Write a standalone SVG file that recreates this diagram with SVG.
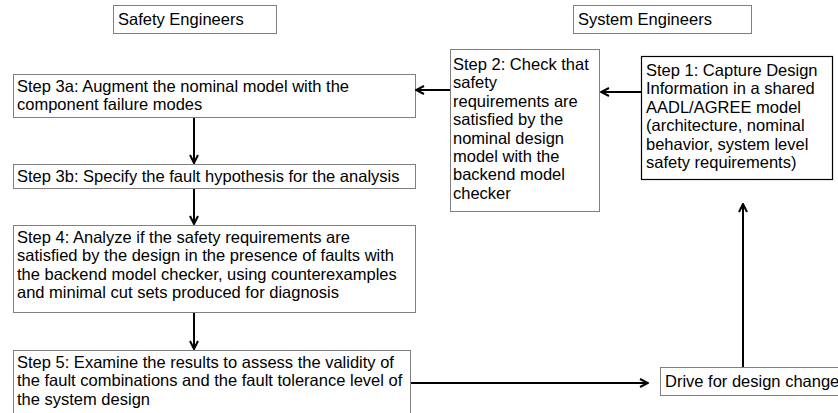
<svg xmlns="http://www.w3.org/2000/svg" width="838" height="413" viewBox="0 0 838 413">
<defs>
<style>
.box{fill:#fff;stroke:#7f7f7f;stroke-width:1}
.dark{fill:#fff;stroke:#000;stroke-width:1.2}
.t{font-family:"Liberation Sans",Arial,sans-serif;font-size:16.5px;fill:#000}
.c{fill:none;stroke:#000;stroke-width:2}
</style>
<marker id="ah" viewBox="0 0 10 10" refX="9" refY="5" markerWidth="10" markerHeight="10" markerUnits="userSpaceOnUse" orient="auto">
<path d="M1,1 L9,5 L1,9" fill="none" stroke="#000" stroke-width="2"/>
</marker>
</defs>
<rect width="838" height="413" fill="#fff"/>
<g id="safety-engineers">
<rect class="box" x="113.5" y="5.5" width="163" height="28"/>
<text class="t" x="118" y="25">Safety Engineers</text>
</g>
<g id="system-engineers">
<rect class="box" x="573.5" y="5.5" width="178" height="28"/>
<text class="t" x="578" y="25">System Engineers</text>
</g>
<g id="step3a">
<rect class="box" x="13.5" y="74.5" width="402" height="43"/>
<text class="t" x="17" y="92">Step 3a: Augment the nominal model with the</text>
<text class="t" x="17" y="110">component failure modes</text>
</g>
<g id="step3b">
<rect class="box" x="13.5" y="164.5" width="402" height="24"/>
<text class="t" x="17" y="182">Step 3b: Specify the fault hypothesis for the analysis</text>
</g>
<g id="step4">
<rect class="box" x="13.5" y="225.5" width="402" height="87"/>
<text class="t" x="17" y="243">Step 4: Analyze if the safety requirements are</text>
<text class="t" x="17" y="261.4">satisfied by the design in the presence of faults with</text>
<text class="t" x="17" y="279.8">the backend model checker, using counterexamples</text>
<text class="t" x="17" y="298.2">and minimal cut sets produced for diagnosis</text>
</g>
<g id="step5">
<rect class="box" x="13.5" y="350.5" width="397" height="80"/>
<text class="t" x="17" y="368">Step 5: Examine the results to assess the validity of</text>
<text class="t" x="17" y="386.4">the fault combinations and the fault tolerance level of</text>
<text class="t" x="17" y="404.8">the system design</text>
</g>
<g id="step2">
<rect class="box" x="450.5" y="49.5" width="149" height="162"/>
<text class="t" x="453" y="70">Step 2: Check that</text>
<text class="t" x="453" y="88.4">safety</text>
<text class="t" x="453" y="106.8">requirements are</text>
<text class="t" x="453" y="125.2">satisfied by the</text>
<text class="t" x="453" y="143.6">nominal design</text>
<text class="t" x="453" y="162">model with the</text>
<text class="t" x="453" y="180.4">backend model</text>
<text class="t" x="453" y="198.8">checker</text>
</g>
<g id="step1">
<rect class="dark" x="641.5" y="56.5" width="191" height="123"/>
<text class="t" x="646" y="76">Step 1: Capture Design</text>
<text class="t" x="646" y="94.4">Information in a shared</text>
<text class="t" x="646" y="112.8">AADL/AGREE model</text>
<text class="t" x="646" y="131.2">(architecture, nominal</text>
<text class="t" x="646" y="149.6">behavior, system level</text>
<text class="t" x="646" y="168">safety requirements)</text>
</g>
<g id="drive">
<rect class="box" x="660.5" y="367.5" width="200" height="28"/>
<text class="t" x="665" y="387">Drive for design change</text>
</g>
<g id="connectors">
<line class="c" x1="641" y1="92" x2="601" y2="92" marker-end="url(#ah)"/>
<line class="c" x1="450" y1="90" x2="416" y2="90" marker-end="url(#ah)"/>
<line class="c" x1="194" y1="118" x2="194" y2="163" marker-end="url(#ah)"/>
<line class="c" x1="194" y1="189" x2="194" y2="224" marker-end="url(#ah)"/>
<line class="c" x1="194" y1="313" x2="194" y2="349" marker-end="url(#ah)"/>
<line class="c" x1="411" y1="383" x2="648" y2="383" marker-end="url(#ah)"/>
<line class="c" x1="743" y1="367" x2="743" y2="204" marker-end="url(#ah)"/>
</g>
</svg>
